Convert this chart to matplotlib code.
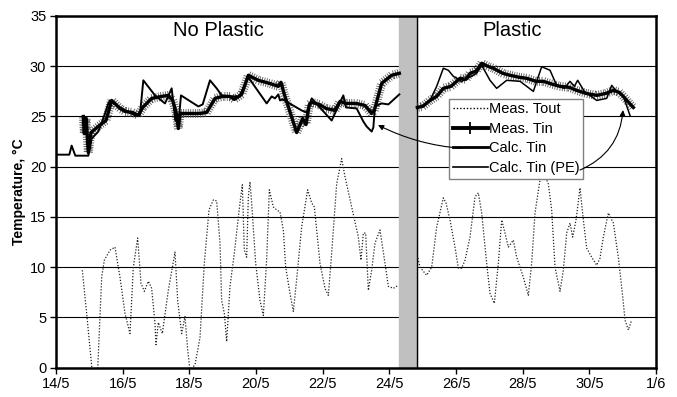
import matplotlib
matplotlib.use("Agg")
import matplotlib.pyplot as plt
import matplotlib.patheffects as pe
from matplotlib.lines import Line2D

plt.rcParams['font.family'] = ['Liberation Sans', 'DejaVu Sans']

# days counted from 14/5
x_ticks = [0, 2, 4, 6, 8, 10, 12, 14, 16, 18]
x_tick_labels = ['14/5', '16/5', '18/5', '20/5', '22/5', '24/5', '26/5', '28/5', '30/5', '1/6']

# measured outside temperature
tout_np_day = [0.79, 0.92, 1.09, 1.25, 1.37, 1.45, 1.62, 1.77, 1.92, 2.07, 2.22, 2.32, 2.45, 2.55,
               2.65, 2.77, 2.87, 2.97, 3.00, 3.07, 3.19, 3.37, 3.57, 3.65, 3.77, 3.87, 3.95, 4.02,
               4.17, 4.32, 4.45, 4.59, 4.72, 4.82, 4.92, 4.97, 5.05, 5.12, 5.22, 5.35, 5.52, 5.59,
               5.65, 5.72, 5.77, 5.82, 5.87, 5.99, 6.12, 6.22, 6.32, 6.40, 6.52, 6.62, 6.72, 6.82,
               6.89, 7.02, 7.12, 7.22, 7.37, 7.55, 7.67, 7.75, 7.92, 8.07, 8.17, 8.27, 8.42, 8.57,
               8.67, 8.87, 9.07, 9.15, 9.22, 9.29, 9.37, 9.47, 9.57, 9.72, 9.87, 9.97, 10.12, 10.27]
tout_np = [9.7, 5.4, -0.5, -0.3, 9.0, 10.7, 11.7, 12.0, 9.0, 5.4, 3.4, 10.0, 12.9, 8.4,
           7.6, 8.6, 7.9, 4.4, 2.3, 4.5, 3.4, 7.7, 11.5, 6.7, 3.4, 5.1, 1.8, -0.3,
           0.3, 3.0, 10.4, 15.7, 16.7, 16.6, 12.4, 6.7, 5.4, 2.6, 8.1, 11.4, 16.4, 18.2,
           11.7, 11.0, 17.0, 18.5, 16.4, 10.4, 6.7, 5.2, 10.8, 17.7, 16.0, 15.7, 15.5, 13.7,
           10.0, 7.4, 5.6, 8.8, 14.0, 17.7, 16.4, 16.0, 10.4, 7.9, 7.2, 11.4, 18.3, 20.8,
           19.0, 16.0, 13.0, 10.7, 13.4, 13.4, 7.7, 9.7, 12.4, 13.7, 10.4, 8.1, 7.9, 8.2]
tout_pl_day = [10.84, 10.92, 11.12, 11.27, 11.42, 11.62, 11.70, 11.82, 11.97, 12.07, 12.17, 12.27,
               12.42, 12.57, 12.67, 12.77, 12.92, 13.02, 13.15, 13.27, 13.37, 13.47, 13.57, 13.72,
               13.82, 14.02, 14.17, 14.27, 14.37, 14.52, 14.65, 14.77, 14.87, 14.97, 15.12, 15.22,
               15.32, 15.42, 15.50, 15.60, 15.72, 15.82, 15.92, 16.07, 16.22, 16.32, 16.42, 16.57,
               16.72, 16.87, 17.00, 17.07, 17.17, 17.27]
tout_pl = [11.2, 10.0, 9.2, 10.0, 14.0, 16.9, 16.4, 14.7, 12.0, 9.9, 9.9, 10.7,
           13.0, 17.0, 17.4, 15.4, 10.4, 7.4, 6.4, 10.4, 14.7, 13.4, 12.0, 12.7,
           11.0, 9.0, 7.2, 10.4, 15.4, 18.7, 19.2, 18.3, 15.7, 10.0, 7.6, 9.7,
           13.4, 14.4, 13.0, 14.7, 17.9, 14.7, 11.9, 11.0, 10.2, 10.9, 13.0, 15.4,
           14.4, 11.0, 7.1, 4.75, 3.75, 4.75]

# measured inside temperature
tin_np_day = [0.82, 0.85, 0.90, 0.97, 1.05, 1.30, 1.50, 1.67, 1.92, 2.07, 2.30, 2.47, 2.60, 2.87,
              3.17, 3.37, 3.50, 3.60, 3.67, 3.72, 4.00, 4.30, 4.52, 4.77, 5.00, 5.22, 5.35, 5.57,
              5.77, 6.07, 6.40, 6.67, 6.75, 6.85, 7.22, 7.40, 7.50, 7.60, 7.67, 7.90, 8.10, 8.37,
              8.52, 8.70, 9.00, 9.27, 9.47, 9.55, 9.77, 10.07, 10.30]
tin_np = [25.0, 23.3, 24.8, 21.4, 23.4, 24.1, 24.6, 26.6, 25.8, 25.5, 25.4, 25.1, 25.9, 26.8,
          27.0, 27.1, 26.6, 25.5, 23.8, 25.3, 25.3, 25.3, 25.4, 26.8, 27.0, 27.0, 26.7, 27.2,
          29.1, 28.6, 28.3, 28.0, 28.4, 27.2, 23.4, 24.8, 24.2, 26.2, 26.4, 26.2, 25.8, 25.6,
          26.5, 26.3, 26.3, 26.1, 25.3, 25.6, 28.3, 29.1, 29.3]
tin_pl_day = [10.84, 11.00, 11.22, 11.42, 11.62, 11.85, 12.12, 12.30, 12.42, 12.60, 12.77, 12.95,
              13.12, 13.40, 13.62, 13.90, 14.12, 14.40, 14.62, 14.90, 15.12, 15.40, 15.62, 15.90,
              16.22, 16.50, 16.72, 16.90, 17.02, 17.15, 17.32]
tin_pl = [25.9, 26.0, 26.6, 27.0, 27.8, 28.0, 28.8, 28.7, 29.3, 29.5, 30.3, 30.0,
          29.8, 29.3, 29.1, 28.9, 28.8, 28.5, 28.5, 28.2, 28.0, 27.9, 27.6, 27.3,
          27.1, 27.3, 27.6, 27.4, 27.0, 26.5, 25.9]

# calculated inside temperature
calc_day = [0.00, 0.40, 0.47, 0.58, 0.97, 1.07, 1.27, 1.42, 1.57, 1.62, 1.87, 2.37, 2.52, 2.62,
            2.97, 3.27, 3.47, 3.58, 3.68, 3.75, 4.27, 4.40, 4.62, 4.82, 4.97, 5.22, 5.50, 5.77,
            6.32, 6.47, 6.57, 6.67, 6.72, 6.80, 7.37, 7.52, 7.67, 8.27, 8.62, 8.70, 9.02, 9.22,
            9.32, 9.47, 9.52, 9.57, 9.77, 9.97, 10.30]
calc_tin = [21.2, 21.2, 22.1, 21.1, 21.1, 22.8, 23.5, 24.8, 26.3, 26.6, 26.0, 25.1, 25.2, 28.6,
            27.1, 26.3, 27.8, 24.6, 24.5, 27.1, 26.0, 26.2, 28.6, 27.8, 27.1, 27.0, 27.0, 28.9,
            26.3, 27.0, 26.8, 27.2, 26.6, 26.7, 25.6, 25.4, 26.8, 24.6, 27.1, 25.9, 25.8, 24.5,
            24.0, 23.5, 23.9, 26.0, 26.3, 26.2, 27.2]

# calculated inside temperature with plastic
calc_pe_day = [10.84, 11.00, 11.22, 11.42, 11.62, 11.77, 11.92, 12.17, 12.35, 12.62, 12.77, 13.02,
               13.22, 13.52, 13.92, 14.32, 14.57, 14.82, 15.02, 15.25, 15.42, 15.55, 15.65, 15.85,
               16.22, 16.52, 16.67, 16.82, 17.02, 17.22]
calc_pe = [25.9, 26.1, 26.6, 28.0, 29.8, 29.6, 29.0, 28.5, 28.8, 29.3, 30.1, 28.6,
           27.8, 28.6, 28.5, 27.5, 29.95, 29.6, 28.1, 27.8, 28.5, 28.0, 28.6, 27.5,
           26.6, 26.8, 28.1, 27.5, 27.0, 25.1]

# period when the plastic was put on
bar_start, bar_end = 10.30, 10.84

fig, ax = plt.subplots(figsize=(6.77, 3.97), dpi=100)
fig.subplots_adjust(left=0.0827, right=0.969, bottom=0.0738, top=0.9597)

ax.axvspan(bar_start, bar_end, color='#c0c0c0', zorder=1)
ax.axvline(bar_end, color='black', lw=1, zorder=1)

dots = (0, (1, 1.4))
ax.plot(tout_np_day, tout_np, color='#222222', lw=0.9, ls=dots, zorder=3)
ax.plot(tout_pl_day, tout_pl, color='#222222', lw=0.9, ls=dots, zorder=3)

# the measured series has a "+" at every reading, which shows as a fuzzy band
fuzz = [pe.TickedStroke(spacing=1.7, angle=90, length=1.7, linewidth=0.6, foreground='#555555'),
        pe.TickedStroke(spacing=1.7, angle=-90, length=1.7, linewidth=0.6, foreground='#555555'),
        pe.Normal()]
for xs, ys in [(tin_np_day, tin_np), (tin_pl_day, tin_pl)]:
    ax.plot(xs, ys, color='black', lw=2.4, zorder=4, path_effects=fuzz)

ax.plot(calc_day, calc_tin, color='black', lw=1.4, zorder=5)
ax.plot(calc_pe_day, calc_pe, color='black', lw=1.1, zorder=5)

ax.set_xlim(0, 18)
ax.set_ylim(0, 35)
ax.set_xticks(x_ticks)
ax.set_xticklabels(x_tick_labels)
ax.set_yticks(range(0, 36, 5))
ax.tick_params(direction='out', length=4, width=1, labelsize=10.5, pad=3)
ax.yaxis.grid(True, color='black', lw=0.8)
ax.set_axisbelow(True)
for s in ax.spines.values():
    s.set_linewidth(1.8)
ax.set_ylabel('Temperature, °C', fontsize=10, fontweight='bold', labelpad=3)

ax.text(4.87, 33.6, 'No Plastic', fontsize=14.5, ha='center', va='center')
ax.text(13.68, 33.6, 'Plastic', fontsize=14.5, ha='center', va='center')

handles = [Line2D([], [], color='black', lw=1, ls=dots),
           Line2D([], [], color='black', lw=2.8, marker='+', ms=9, mew=1.3),
           Line2D([], [], color='black', lw=2.0),
           Line2D([], [], color='black', lw=1.2)]
labels = ['Meas. Tout', 'Meas. Tin', 'Calc. Tin', 'Calc. Tin (PE)']
leg = ax.legend(handles, labels, loc='upper left', bbox_to_anchor=(0.655, 0.765),
                fontsize=10.5, frameon=True, fancybox=False, edgecolor='#808080',
                framealpha=1, borderpad=0.25, labelspacing=0.38, handlelength=2.4,
                handletextpad=0.1, borderaxespad=0, numpoints=1)
leg.get_frame().set_linewidth(1)
leg.set_zorder(6)

ax.annotate('', xy=(9.66, 24.15), xytext=(12.17, 21.83), zorder=7,
            arrowprops=dict(arrowstyle='-|>', color='black', lw=0.8, mutation_scale=8,
                            shrinkA=0, shrinkB=0, connectionstyle='arc3,rad=-0.1'))
ax.annotate('', xy=(17.01, 25.64), xytext=(15.72, 19.67), zorder=7,
            arrowprops=dict(arrowstyle='-|>', color='black', lw=0.8, mutation_scale=8,
                            shrinkA=0, shrinkB=0, connectionstyle='arc3,rad=0.3'))

plt.savefig('out.png', dpi=100)
